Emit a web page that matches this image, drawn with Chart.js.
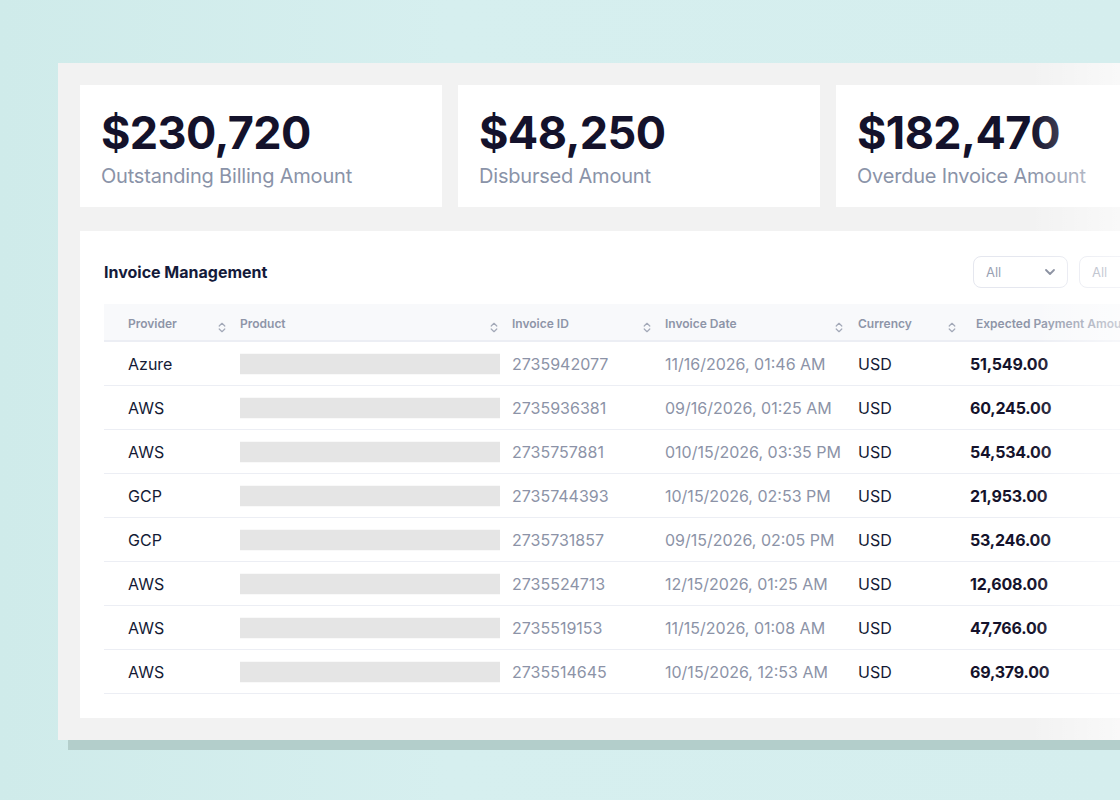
<!DOCTYPE html>
<html>
<head>
<meta charset="utf-8">
<script src="https://cdn.jsdelivr.net/npm/chart.js@4.4.1/dist/chart.umd.min.js"></script>
<style>
  html,body{margin:0;padding:0;}
  body{width:1120px;height:800px;overflow:hidden;position:relative;
    background:linear-gradient(90deg,#cfebea 0%,#d6efef 40%,#d5eeee 100%);
    font-family:Inter,"Noto Sans",sans-serif;}
  .abs{position:absolute;}
  #panel{left:58px;top:63px;width:1062px;height:677px;background:#f2f2f2;}
  #shadow{left:68px;top:740px;width:1052px;height:10px;background:#b3cecb;}
  .card{background:#fff;top:85px;height:122px;}
  .big{position:absolute;left:21px;top:20px;font-size:45px;font-weight:700;color:#14122b;letter-spacing:-0.6px;line-height:56px;white-space:nowrap;}
  .lbl{position:absolute;left:21px;top:78px;font-size:20px;font-weight:400;color:#8a93a8;line-height:26px;letter-spacing:-0.2px;white-space:nowrap;}
  #tbl{left:80px;top:231px;width:1040px;height:487px;background:#fff;}
  #title{left:104px;top:261px;font-size:16px;font-weight:700;color:#141a3a;line-height:22px;white-space:nowrap;}
  .dd{top:256px;height:30px;border:1px solid #e5e7ef;border-radius:8px;background:#fff;}
  .dd span{position:absolute;left:12px;top:0;line-height:30px;font-size:13px;color:#9aa1b3;}
  #head{left:104px;top:304px;width:1016px;height:36px;background:#f8f9fb;border-bottom:2px solid #eceef4;}
  .hc{position:absolute;top:1px;line-height:37px;font-size:12px;font-weight:600;color:#8e95a8;white-space:nowrap;}
  .si{position:absolute;top:13px;width:8px;height:11px;}
  .row{position:absolute;left:104px;width:1016px;height:43px;border-bottom:1px solid #eceef4;}
  .c{position:absolute;top:1px;line-height:43px;font-size:16px;white-space:nowrap;}
  .dark{color:#141a35;}
  .gray{color:#8c93a7;}
  .amt{font-weight:700;color:#14122b;letter-spacing:-0.2px;}
  #barWrap{left:240px;top:342px;width:260px;height:352px;}
  #fade{left:1030px;top:63px;width:90px;height:677px;
    background:linear-gradient(90deg,rgba(255,255,255,0) 0%,rgba(255,255,255,0.55) 100%);pointer-events:none;}
</style>
</head>
<body>
<div id="panel" class="abs"></div>
<div id="shadow" class="abs"></div>

<div class="abs card" style="left:80px;width:362px;"><div class="big" id="k0"></div><div class="lbl" id="l0"></div></div>
<div class="abs card" style="left:458px;width:362px;"><div class="big" id="k1"></div><div class="lbl" id="l1"></div></div>
<div class="abs card" style="left:836px;width:300px;"><div class="big" id="k2"></div><div class="lbl" id="l2"></div></div>

<div id="tbl" class="abs"></div>
<div id="title" class="abs">Invoice Management</div>
<div class="abs dd" style="left:973px;width:93px;"><span>All</span>
  <svg class="abs" style="left:70px;top:11px" width="12" height="8" viewBox="0 0 12 8"><path d="M2 2 L6 6 L10 2" fill="none" stroke="#7d8496" stroke-width="1.8" stroke-linecap="round" stroke-linejoin="round"/></svg>
</div>
<div class="abs dd" style="left:1079px;width:93px;"><span>All</span></div>

<div id="head" class="abs"></div>
<div id="rows"></div>
<div id="barWrap" class="abs"><canvas id="bars"></canvas></div>
<div id="fade" class="abs"></div>

<script>
// ---- data ----
const kpiValues = ["$230,720", "$48,250", "$182,470"];
const kpiLabels = ["Outstanding Billing Amount", "Disbursed Amount", "Overdue Invoice Amount"];
const columns = ["Provider", "Product", "Invoice ID", "Invoice Date", "Currency", "Expected Payment Amount"];
const providers = ["Azure", "AWS", "AWS", "GCP", "GCP", "AWS", "AWS", "AWS"];
const invoiceIds = ["2735942077", "2735936381", "2735757881", "2735744393", "2735731857", "2735524713", "2735519153", "2735514645"];
const invoiceDates = ["11/16/2026, 01:46 AM", "09/16/2026, 01:25 AM", "010/15/2026, 03:35 PM", "10/15/2026, 02:53 PM", "09/15/2026, 02:05 PM", "12/15/2026, 01:25 AM", "11/15/2026, 01:08 AM", "10/15/2026, 12:53 AM"];
const currencies = ["USD", "USD", "USD", "USD", "USD", "USD", "USD", "USD"];
const amounts = ["51,549.00", "60,245.00", "54,534.00", "21,953.00", "53,246.00", "12,608.00", "47,766.00", "69,379.00"];
// product names are redacted: each row shows a full-width placeholder bar
const productPlaceholder = [1, 1, 1, 1, 1, 1, 1, 1];

// ---- KPI cards ----
kpiValues.forEach((v, i) => { document.getElementById('k' + i).textContent = v; document.getElementById('l' + i).textContent = kpiLabels[i]; });

// ---- header ----
const colX = [128, 240, 512, 665, 858, 976];   // header text positions
const cellX = [128, 240, 512, 665, 858, 970];  // body cell positions
const sortX = [218, 490, 643, 835, 948];
const head = document.getElementById('head');
const sortSvg = '<svg viewBox="0 0 8 11" width="8" height="11"><path d="M1.2 4 L4 1.3 L6.8 4" fill="none" stroke="#a3a9b8" stroke-width="1.2" stroke-linecap="round" stroke-linejoin="round"/><path d="M1.2 7 L4 9.7 L6.8 7" fill="none" stroke="#a3a9b8" stroke-width="1.2" stroke-linecap="round" stroke-linejoin="round"/></svg>';
columns.forEach((c, i) => {
  const d = document.createElement('div'); d.className = 'hc'; d.style.left = (colX[i] - 104) + 'px'; d.textContent = c; head.appendChild(d);
});
sortX.forEach(x => { const s = document.createElement('div'); s.className = 'si'; s.style.left = (x - 104) + 'px'; s.innerHTML = sortSvg; head.appendChild(s); });

// ---- rows ----
const rows = document.getElementById('rows');
providers.forEach((p, r) => {
  const row = document.createElement('div'); row.className = 'row'; row.style.top = (342 + r * 44) + 'px';
  const cells = [[p, 'dark', 0], [invoiceIds[r], 'gray', 2], [invoiceDates[r], 'gray', 3], [currencies[r], 'dark', 4], [amounts[r], 'amt', 5]];
  cells.forEach(([t, cls, ci]) => {
    const c = document.createElement('div'); c.className = 'c ' + cls; c.style.left = (cellX[ci] - 104) + 'px'; c.textContent = t; row.appendChild(c);
  });
  rows.appendChild(row);
});

// ---- product placeholder bars via Chart.js ----
new Chart(document.getElementById('bars'), {
  type: 'bar',
  data: {
    labels: invoiceIds,
    datasets: [{ data: productPlaceholder, backgroundColor: '#e5e5e5', borderWidth: 0, barThickness: 20, borderSkipped: false }]
  },
  options: {
    indexAxis: 'y',
    responsive: true,
    maintainAspectRatio: false,
    animation: false,
    layout: { padding: 0 },
    plugins: { legend: { display: false }, tooltip: { enabled: false } },
    scales: {
      x: { display: false, min: 0, max: 1 },
      y: { display: false }
    }
  }
});
</script>
</body>
</html>
